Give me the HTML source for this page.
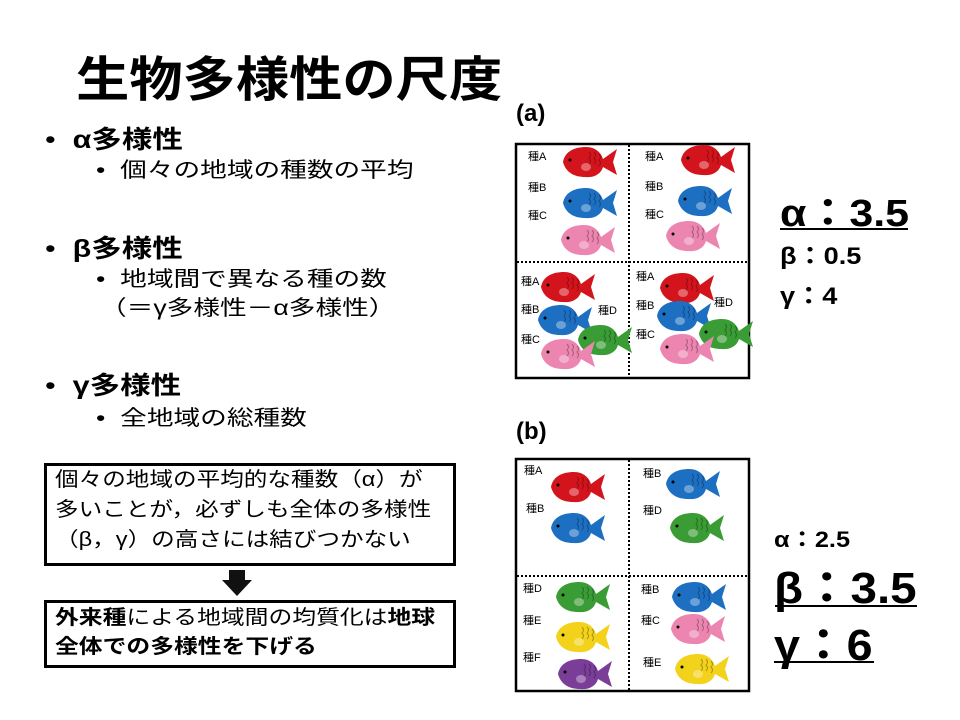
<!DOCTYPE html>
<html><head><meta charset="utf-8"><style>
body{margin:0;width:960px;height:720px;background:#fff;position:relative;overflow:hidden;font-family:"Liberation Sans","Noto Sans CJK JP",sans-serif;color:#000}
.a{position:absolute;white-space:nowrap;transform-origin:0 0}
.b{font-weight:bold}
</style></head><body>
<div class="a b" style="left:76px;top:40px;font-size:48px;transform:scaleX(1.11)">生物多様性の尺度</div>
<div class="a" style="left:45px;top:120px;font-size:25px;transform:scaleX(1.22)">•&nbsp; <b>α多様性</b></div>
<div class="a" style="left:96px;top:154px;font-size:21px;transform:scaleX(1.27)">•&nbsp; 個々の地域の種数の平均</div>
<div class="a" style="left:45px;top:229px;font-size:25px;transform:scaleX(1.22)">•&nbsp; <b>β多様性</b></div>
<div class="a" style="left:96px;top:263px;font-size:21px;transform:scaleX(1.27)">•&nbsp; 地域間で異なる種の数</div>
<div class="a" style="left:100px;top:292px;font-size:21px;transform:scaleX(1.27)">（＝γ多様性－α多様性）</div>
<div class="a" style="left:45px;top:366px;font-size:25px;transform:scaleX(1.22)">•&nbsp; <b>γ多様性</b></div>
<div class="a" style="left:96px;top:402px;font-size:21px;transform:scaleX(1.27)">•&nbsp; 全地域の総種数</div>

<div class="a" style="left:44px;top:463px;width:412px;height:103px;border:3px solid #000;box-sizing:border-box"></div>
<div class="a" style="left:55px;top:465px;font-size:20px;line-height:30px;transform:scaleX(1.18)">個々の地域の平均的な種数（α）が<br>多いことが，必ずしも全体の多様性<br>（β，γ）の高さには結びつかない</div>
<div class="a" style="left:44px;top:600px;width:412px;height:68px;border:3px solid #000;box-sizing:border-box"></div>
<div class="a" style="left:55px;top:604px;font-size:20px;line-height:29px;transform:scaleX(1.19)"><b>外来種</b>による地域間の均質化は<b>地球<br>全体での多様性を下げる</b></div>
<svg class="a" style="left:0;top:0" width="960" height="720">
<polygon points="229,570 245,570 245,580 252,580 237,596 222,580 229,580" fill="#111"/>
<defs><symbol id="f" viewBox="0 0 58 34"><path d="M2,17 C4,6 14,2 25,2 C35,2 40,8 42,14 L56,4 L52,17 L56,30 L42,22 C40,29 33,33 24,32 C14,32 5,28 2,17 Z" fill="currentColor"/><ellipse cx="25" cy="22" rx="5" ry="4" fill="#fff" opacity=".35"/><circle cx="9" cy="15" r="1.5" fill="#000"/><path d="M28,7 q3,3 0,6 q3,3 0,6 M33,7 q3,3 0,6 q3,3 0,6 M38,9 q3,3 0,6 q3,3 0,6" stroke="#000" stroke-opacity=".3" fill="none"/></symbol></defs>
<g fill="none" stroke="#000"><rect x="516" y="144" width="233" height="234" stroke-width="2.5"/><rect x="516" y="459" width="233" height="232" stroke-width="2.5"/>
<path d="M629,145V377M517,262H748M629,460V690M517,576H748" stroke-width="2" stroke-dasharray="2,2"/></g>
<g font-size="11" fill="#000">
<text x="528" y="160">種A</text><text x="528" y="191">種B</text><text x="528" y="219">種C</text>
<text x="645" y="160">種A</text><text x="645" y="190">種B</text><text x="645" y="218">種C</text>
<text x="521" y="285">種A</text><text x="521" y="313">種B</text><text x="521" y="343">種C</text><text x="598" y="314">種D</text>
<text x="636" y="280">種A</text><text x="636" y="309">種B</text><text x="636" y="338">種C</text><text x="714" y="306">種D</text>
<text x="524" y="474">種A</text><text x="526" y="512">種B</text><text x="643" y="477">種B</text><text x="643" y="514">種D</text>
<text x="523" y="592">種D</text><text x="523" y="624">種E</text><text x="523" y="661">種F</text>
<text x="641" y="593">種B</text><text x="641" y="624">種C</text><text x="643" y="666">種E</text>
</g>
<g>
<use href="#f" x="561" y="145" width="58" height="34" style="color:#d4141c"/>
<use href="#f" x="561" y="186" width="58" height="34" style="color:#1d6fc2"/>
<use href="#f" x="559" y="223" width="58" height="34" style="color:#ec85b0"/>
<use href="#f" x="679" y="143" width="58" height="34" style="color:#d4141c"/>
<use href="#f" x="676" y="184" width="58" height="34" style="color:#1d6fc2"/>
<use href="#f" x="664" y="219" width="58" height="34" style="color:#ec85b0"/>
<use href="#f" x="539" y="270" width="58" height="34" style="color:#d4141c"/>
<use href="#f" x="536" y="303" width="58" height="34" style="color:#1d6fc2"/>
<use href="#f" x="576" y="323" width="58" height="34" style="color:#3a9c34"/>
<use href="#f" x="539" y="337" width="58" height="34" style="color:#ec85b0"/>
<use href="#f" x="658" y="271" width="58" height="34" style="color:#d4141c"/>
<use href="#f" x="655" y="299" width="58" height="34" style="color:#1d6fc2"/>
<use href="#f" x="697" y="317" width="58" height="34" style="color:#3a9c34"/>
<use href="#f" x="658" y="332" width="58" height="34" style="color:#ec85b0"/>
<use href="#f" x="549" y="470" width="58" height="34" style="color:#d4141c"/>
<use href="#f" x="549" y="511" width="58" height="34" style="color:#1d6fc2"/>
<use href="#f" x="664" y="467" width="58" height="34" style="color:#1d6fc2"/>
<use href="#f" x="668" y="511" width="58" height="34" style="color:#3a9c34"/>
<use href="#f" x="554" y="580" width="58" height="34" style="color:#3a9c34"/>
<use href="#f" x="554" y="620" width="58" height="34" style="color:#f2d21a"/>
<use href="#f" x="556" y="657" width="58" height="34" style="color:#7a3d98"/>
<use href="#f" x="670" y="580" width="58" height="34" style="color:#1d6fc2"/>
<use href="#f" x="669" y="612" width="58" height="34" style="color:#ec85b0"/>
<use href="#f" x="673" y="652" width="58" height="34" style="color:#f2d21a"/>
</g>
<g stroke="#000" stroke-width="2"><path d="M780,229H908M775,606H917M774,662H874"/></g>
</svg>
<div class="a b" style="left:516px;top:100px;font-size:24px;">(a)</div>
<div class="a b" style="left:516px;top:418px;font-size:24px;">(b)</div>
<div class="a b" style="left:780px;top:182px;font-size:38px;transform:scaleX(1.13)">α：3.5</div>
<div class="a b" style="left:780px;top:236px;font-size:24px;transform:scaleX(1.13)">β：0.5</div>
<div class="a b" style="left:780px;top:276px;font-size:24px;transform:scaleX(1.13)">γ：4</div>
<div class="a b" style="left:774px;top:522px;font-size:22px;transform:scaleX(1.15)">α：2.5</div>
<div class="a b" style="left:774px;top:552px;font-size:44px;transform:scaleX(1.08)">β：3.5</div>
<div class="a b" style="left:774px;top:609px;font-size:44px;transform:scaleX(1.06)">γ：6</div>
</body></html>
